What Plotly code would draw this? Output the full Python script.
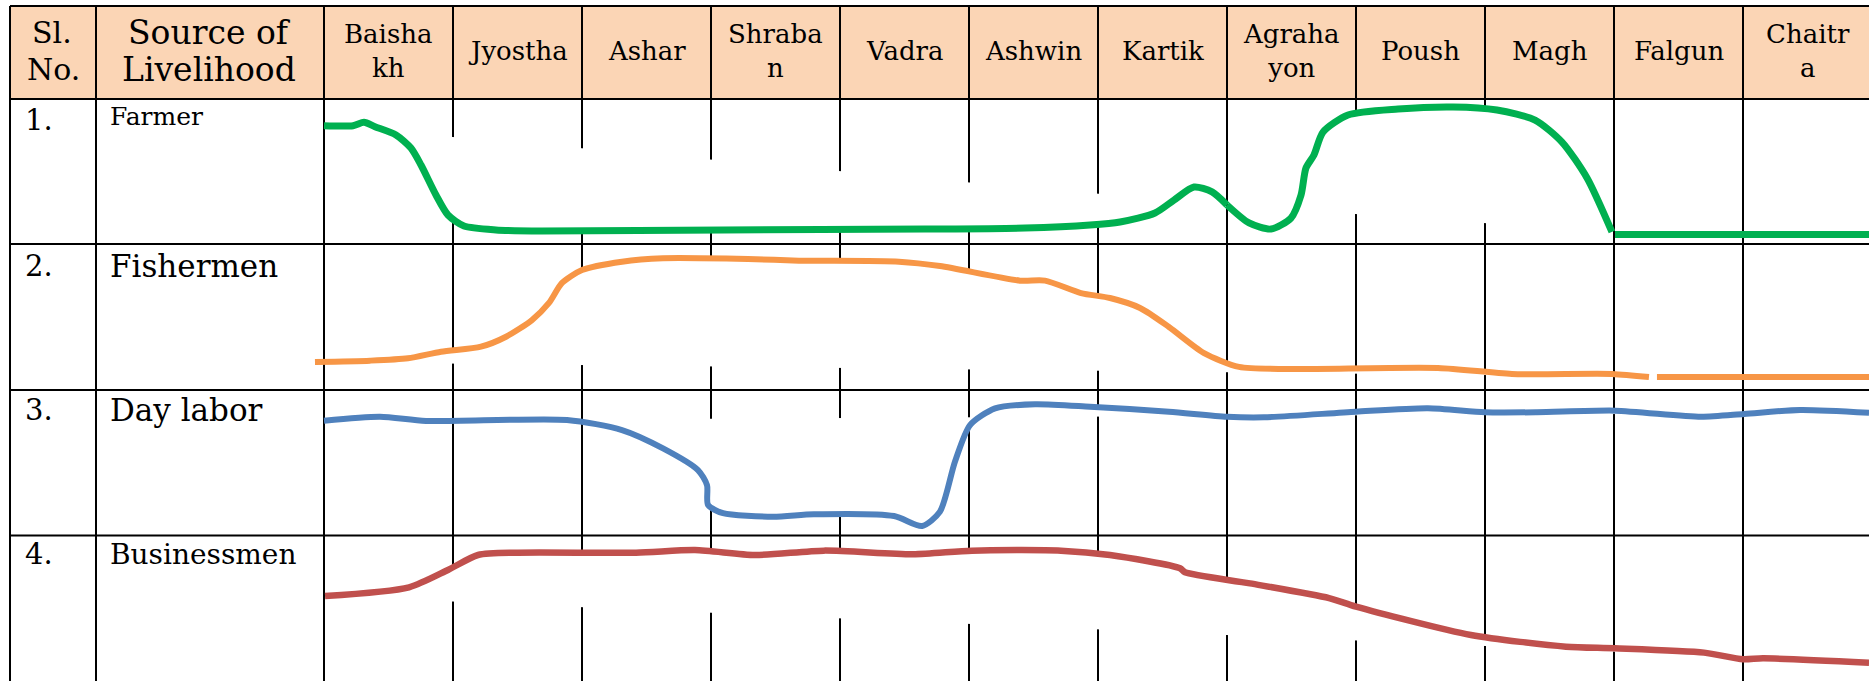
import plotly.graph_objects as go

# ---------------- data ----------------
months = ["Baisha<br>kh", "Jyostha", "Ashar", "Shraba<br>n", "Vadra", "Ashwin",
          "Kartik", "Agraha<br>yon", "Poush", "Magh", "Falgun", "Chaitr<br>a"]
serial_no = ["1.", "2.", "3.", "4."]
livelihood = ["Farmer", "Fishermen", "Day labor", "Businessmen"]

# x = position in months (0 = start of Baishakh), y = activity level (0-100) within the row
farmer_a_x = [0, 0.225, 0.31, 0.395, 0.558, 0.674, 0.752, 0.868, 0.961, 1.085, 1.333, 1.69,
              3.093, 4.659, 5.434, 5.938, 6.171, 6.442, 6.589, 6.744, 6.884, 7.0]
farmer_a_y = [81.6, 81.6, 83.9, 80.9, 75.2, 66.2, 54.5, 33.8, 20.0, 12.4, 9.7, 9.0,
              9.7, 10.3, 11.0, 13.1, 15.2, 21.4, 30.3, 39.3, 35.9, 26.9]
farmer_b_x = [7.0, 7.171, 7.341, 7.496, 7.574, 7.612, 7.674, 7.744, 7.938, 8.326, 8.752,
              9.093, 9.388, 9.597, 9.791, 9.984]
farmer_b_y = [26.9, 14.5, 10.3, 17.9, 33.8, 52.4, 61.4, 77.2, 89.0, 93.1, 94.5,
              92.4, 85.5, 70.3, 45.5, 8.3]
farmer_c_x = [10.008, 12.0]
farmer_c_y = [6.5, 6.5]

fisher_a_x = [-0.07, 0.357, 0.651, 0.907, 1.217, 1.411, 1.612, 1.744, 1.845, 2.0, 2.310,
              2.628, 3.287, 3.682, 4.457, 4.775, 5.395, 5.589, 5.868, 6.093, 6.326, 6.550,
              6.822, 7.093, 7.481, 8.636, 9.209, 9.984, 10.271]
fisher_a_y = [19.2, 20.1, 21.7, 26.2, 29.7, 36.5, 47.9, 59.6, 73.3, 82.2, 87.9,
              90.2, 89.7, 88.6, 87.9, 84.9, 74.9, 74.9, 66.4, 63.0, 56.2, 43.2,
              25.3, 15.8, 14.4, 15.1, 11.0, 11.0, 8.9]
fisher_b_x = [10.333, 12.0]
fisher_b_y = [8.9, 8.9]

labor_x = [0, 0.434, 0.791, 1.884, 2.310, 2.628, 2.899, 2.969, 2.977, 3.093, 3.481, 3.798,
           4.419, 4.636, 4.775, 4.891, 5.008, 5.202, 5.512, 5.938, 6.550, 7.0, 7.287, 8.0,
           8.558, 9.0, 9.403, 10.008, 10.674, 11.008, 11.442, 11.977]
labor_y = [78.9, 81.6, 78.7, 79.4, 72.5, 59.9, 45.0, 34.7, 21.0, 15.3, 12.9, 14.6,
           13.4, 6.5, 16.4, 50.7, 75.9, 87.4, 90.2, 88.5, 85.1, 81.6, 81.2, 85.1,
           87.4, 84.7, 84.7, 85.8, 81.6, 83.5, 86.3, 84.4]

business_x = [0.008, 0.659, 0.961, 1.194, 1.504, 2.419, 2.876, 3.341, 3.876, 4.566, 5.023,
              5.713, 6.093, 6.636, 6.674, 7.178, 7.791, 8.0, 8.891, 9.628, 10.008, 10.698,
              11.0, 11.155, 11.977]
business_y = [58.4, 64.4, 76.3, 86.6, 88.2, 88.2, 90.0, 86.6, 89.6, 87.1, 89.6,
              89.6, 86.6, 77.5, 74.7, 67.1, 57.0, 51.1, 31.6, 23.6, 22.5, 19.5,
              14.9, 15.6, 12.6]

# ---------------- geometry / style ----------------
W, H = 1869, 681
COL_W = 129.0
X0_PX = 324.0
TABLE_TOP, TABLE_LEFT, SRC_LEFT = 6, 10, 96
ROW_EDGES = [99, 244, 390, 535.5, 681]
FONT = "DejaVu Serif"
HEADER_FILL = "#FBD5B5"


def py(p):
    return 1 - p / H


def px(p):
    return p / W


fig = go.Figure()

series = [
    ("y", [(farmer_a_x, farmer_a_y, True), (farmer_b_x, farmer_b_y, True),
           (farmer_c_x, farmer_c_y, False)], "#00B050", 7),
    ("y2", [(fisher_a_x, fisher_a_y, True), (fisher_b_x, fisher_b_y, False)], "#F79646", 6),
    ("y3", [(labor_x, labor_y, True)], "#4F81BD", 6),
    ("y4", [(business_x, business_y, True)], "#C0504D", 6.5),
]

for yref, pieces, color, width in series:
    for xs, ys, filled in pieces:
        if filled:
            fig.add_trace(go.Scatter(
                x=xs, y=ys, xaxis="x", yaxis=yref, mode="lines", fill="toself",
                fillcolor="white", line=dict(width=0, shape="spline", smoothing=0.7),
                hoverinfo="skip", showlegend=False))
    for xs, ys, filled in pieces:
        fig.add_trace(go.Scatter(
            x=xs, y=ys, xaxis="x", yaxis=yref, mode="lines",
            line=dict(color=color, width=width, shape="spline", smoothing=0.7),
            hoverinfo="skip", showlegend=False))

shapes = []
# header fill
shapes.append(dict(type="rect", xref="paper", yref="paper", x0=px(TABLE_LEFT), x1=1,
                   y0=py(ROW_EDGES[0]), y1=py(TABLE_TOP), fillcolor=HEADER_FILL,
                   line=dict(width=0), layer="below"))
line_style = dict(color="black", width=2)
for yy in [TABLE_TOP] + ROW_EDGES[:-1]:
    shapes.append(dict(type="line", xref="paper", yref="paper", x0=px(TABLE_LEFT), x1=1,
                       y0=py(yy), y1=py(yy), line=line_style, layer="below"))
for xx in [TABLE_LEFT, SRC_LEFT]:
    shapes.append(dict(type="line", xref="paper", yref="paper", x0=px(xx), x1=px(xx),
                       y0=0, y1=py(TABLE_TOP), line=line_style, layer="below"))
for k in range(len(months) + 1):
    shapes.append(dict(type="line", xref="x", yref="paper", x0=k, x1=k,
                       y0=0, y1=py(TABLE_TOP), line=line_style, layer="below"))

ann = []
hdr = dict(family=FONT, size=30, color="black")
ann += [dict(text="Sl.", x=px(52), y=py(32), font=hdr),
        dict(text="No.", x=px(53), y=py(69), font=hdr),
        dict(text="Source of", x=px(209), y=py(32), font=dict(hdr, size=33)),
        dict(text="Livelihood", x=px(209), y=py(69), font=dict(hdr, size=33))]
for a in ann:
    a.update(xref="paper", yref="paper", showarrow=False, xanchor="center", yanchor="middle")
for k, m in enumerate(months):
    ann.append(dict(text=m, x=k + 0.5, y=py(51), xref="x", yref="paper", showarrow=False,
                    xanchor="center", yanchor="middle",
                    font=dict(family=FONT, size=26, color="black")))
label_sizes = [25, 31, 31, 28]
label_y = [116, 266, 410, 554]
num_y = [120, 266, 410, 554]
for i in range(4):
    ann.append(dict(text=serial_no[i], x=px(23), y=py(num_y[i]), xref="paper", yref="paper",
                    showarrow=False, xanchor="left", yanchor="middle",
                    font=dict(family=FONT, size=29, color="black")))
    ann.append(dict(text=livelihood[i], x=px(108), y=py(label_y[i]), xref="paper",
                    yref="paper", showarrow=False, xanchor="left", yanchor="middle",
                    font=dict(family=FONT, size=label_sizes[i], color="black")))

layout = dict(
    width=W, height=H, autosize=False,
    margin=dict(l=0, r=0, t=0, b=0, pad=0),
    paper_bgcolor="white", plot_bgcolor="rgba(0,0,0,0)",
    showlegend=False, shapes=shapes, annotations=ann,
    xaxis=dict(range=[(0 - X0_PX) / COL_W, (W - X0_PX) / COL_W], visible=False,
               fixedrange=True, anchor="y4"),
)
for i in range(4):
    key = "yaxis" if i == 0 else f"yaxis{i + 1}"
    layout[key] = dict(domain=[py(ROW_EDGES[i + 1]), py(ROW_EDGES[i])], range=[0, 100],
                       visible=False, fixedrange=True, anchor="x")
fig.update_layout(**layout)

fig.write_html("out.html", config={"displayModeBar": False},
               post_script="document.body.style.margin='0';")
